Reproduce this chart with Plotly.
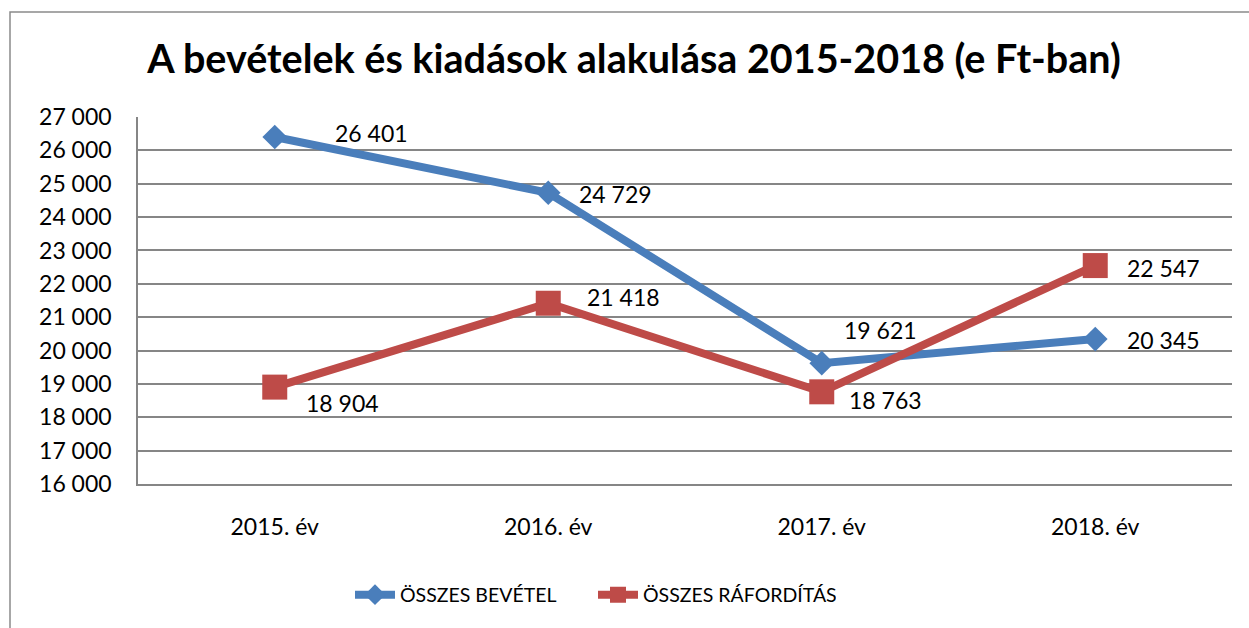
import plotly.graph_objects as go

categories = ["2015. év", "2016. év", "2017. év", "2018. év"]
bevetel = [26401, 24729, 19621, 20345]
raforditas = [18904, 21418, 18763, 22547]
series_names = ["ÖSSZES BEVÉTEL", "ÖSSZES RÁFORDÍTÁS"]
title_text = "A bevételek és kiadások alakulása 2015-2018 (e Ft-ban)"

BLUE = "#4A7EBB"
RED = "#BE4B48"
GRID = "#868686"
FONT = "Lato"

# label offsets in px (left edge dx, vertical shift up)
blue_dx = [58, 29, 20, 30]
blue_dy = [4, -1, 33, -1]
red_dx = [29, 37, 25, 30]
red_dy = [-16, 6, -8, -2]

def fmt(v):
    return f"{v:,}".replace(",", " ")

fig = go.Figure()
fig.add_trace(go.Scatter(
    x=categories, y=bevetel, name=series_names[0], mode="lines+markers",
    line=dict(color=BLUE, width=8),
    marker=dict(symbol="diamond", size=19, color=BLUE),
))
fig.add_trace(go.Scatter(
    x=categories, y=raforditas, name=series_names[1], mode="lines+markers",
    line=dict(color=RED, width=8),
    marker=dict(symbol="square", size=25, color=RED),
))

annotations = []
for vals, dxs, dys in ((bevetel, blue_dx, blue_dy), (raforditas, red_dx, red_dy)):
    for c, v, dx, dy in zip(categories, vals, dxs, dys):
        annotations.append(dict(
            x=c, y=v, xref="x", yref="y", text=fmt(v), showarrow=False,
            xanchor="left", yanchor="middle", xshift=dx, yshift=dy,
            font=dict(family=FONT, size=23, color="#000000"),
        ))

shapes = [dict(
    type="rect", xref="paper", yref="paper",
    x0=(10 - 138) / 1094, x1=1.2, y0=-0.5, y1=(484 - 12) / 367,
    line=dict(color="#8A8A8A", width=1.5), fillcolor="rgba(0,0,0,0)", layer="below",
)]

fig.update_layout(
    width=1249, height=628,
    margin=dict(l=138, r=17, t=117, b=144),
    paper_bgcolor="white", plot_bgcolor="white",
    separators=", ",
    font=dict(family=FONT, size=23, color="#000000"),
    title=dict(
        text=title_text, xref="container", yref="container",
        x=634 / 1249, y=1 - 59 / 628, xanchor="center", yanchor="middle",
        font=dict(family=FONT, size=39.5, color="#000000", weight="bold"),
    ),
    xaxis=dict(
        type="category", range=[-0.5, 3.5], showgrid=False,
        showline=True, linecolor=GRID, linewidth=1.5,
        ticks="", ticklabelstandoff=22,
        tickfont=dict(family=FONT, size=23, color="#000000"),
        fixedrange=True,
    ),
    yaxis=dict(
        range=[16000, 27000], dtick=1000, tick0=16000, tickformat=",d",
        showgrid=True, gridcolor=GRID, gridwidth=1.8,
        showline=True, linecolor=GRID, linewidth=1.5,
        zeroline=False, ticks="", ticklabelstandoff=20,
        tickfont=dict(family=FONT, size=23, color="#000000"),
        fixedrange=True,
    ),
    showlegend=True,
    legend=dict(
        orientation="h", x=(350 - 138) / 1094, y=-(595 - 484) / 367,
        xanchor="left", yanchor="middle",
        font=dict(family=FONT, size=19.5, color="#000000"),
        itemwidth=40, entrywidth=188, entrywidthmode="pixels",
        bgcolor="rgba(0,0,0,0)",
    ),
    annotations=annotations,
    shapes=shapes,
)

fig.write_html(
    "out.html",
    config={"displayModeBar": False},
    post_script="document.body.style.margin='0';document.body.style.overflow='hidden';",
)
